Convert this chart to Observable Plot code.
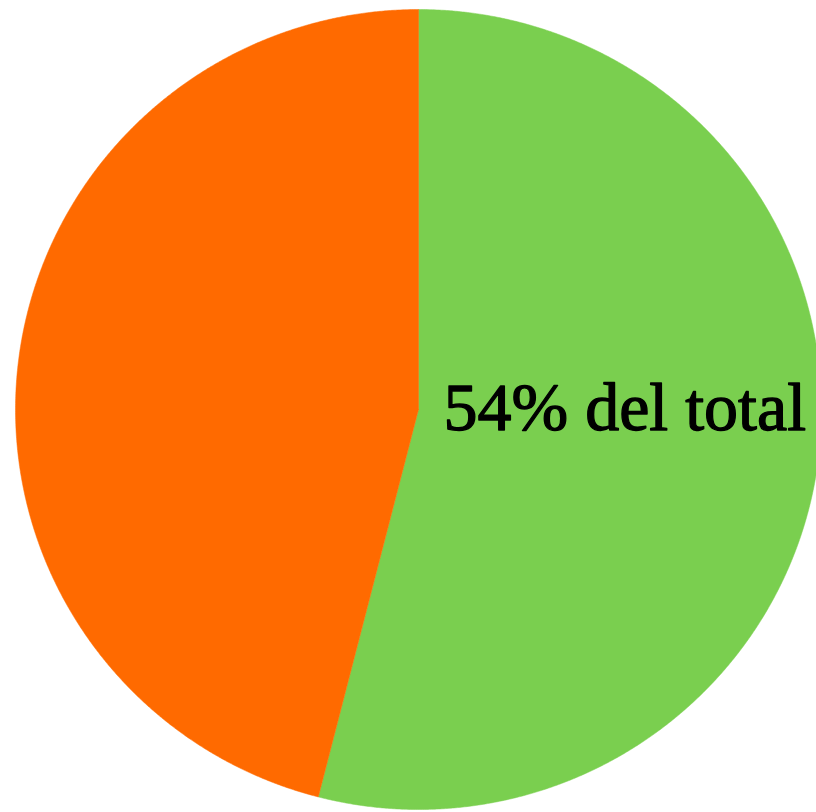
<!DOCTYPE html>
<html>
<head>
<meta charset="utf-8">
<script src="https://cdn.jsdelivr.net/npm/d3@7"></script>
<script src="https://cdn.jsdelivr.net/npm/@observablehq/plot@0.6"></script>
<style>
  html, body { margin: 0; padding: 0; background: #fff; }
  #chart { width: 816px; height: 812px; overflow: hidden; }
</style>
</head>
<body>
<div id="chart"></div>
<script>
const categories = ["Grupo A", "Grupo B"];
const values = [54, 46];
const colors = ["#7ACF4F", "#FF6A00"];
const labelText = "54% del total";

const total = d3.sum(values);
const rows = [];
let cum = 0;
values.forEach((v, i) => {
  const a0 = cum / total * 2 * Math.PI;
  cum += v;
  const a1 = cum / total * 2 * Math.PI;
  rows.push({cat: categories[i], px: 0, py: 0});
  const n = Math.max(2, Math.ceil((a1 - a0) / (Math.PI / 720)));
  for (let k = 0; k <= n; k++) {
    const a = a0 + (a1 - a0) * k / n;
    rows.push({cat: categories[i], px: Math.sin(a), py: Math.cos(a)});
  }
  rows.push({cat: categories[i], px: 0, py: 0});
});

const cx = 418, cy = 409, rx = 403, ry = 400;
const chart = Plot.plot({
  width: 816,
  height: 812,
  margin: 0,
  x: {domain: [-1, 1], range: [cx - rx, cx + rx], axis: null},
  y: {domain: [-1, 1], range: [cy + ry, cy - ry], axis: null},
  color: {domain: categories, range: colors},
  marks: [
    Plot.line(rows, {x: "px", y: "py", z: "cat", fill: "cat", stroke: "cat", strokeWidth: 0.5, curve: "linear"}),
    Plot.text([{px: 0, py: 0, t: labelText}], {
      x: "px", y: "py", text: "t", dx: 25, dy: -1,
      textAnchor: "start", lineAnchor: "middle",
      fontSize: 68, fontFamily: "Liberation Serif", fill: "#000",
      stroke: "#000", strokeWidth: 1.3
    })
  ]
});
chart.style.overflow = "hidden";
document.getElementById("chart").appendChild(chart);
</script>
</body>
</html>
